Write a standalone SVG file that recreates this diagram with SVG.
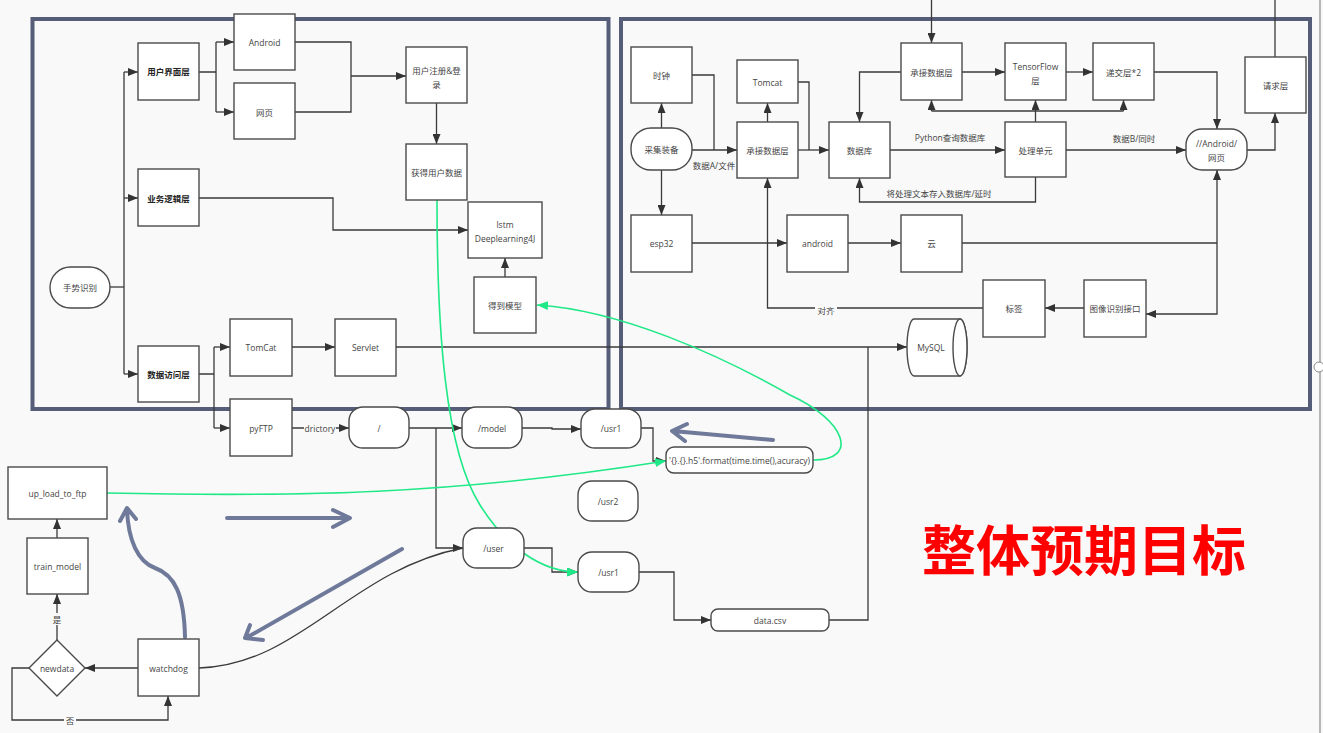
<svg xmlns="http://www.w3.org/2000/svg" width="1323" height="733" viewBox="0 0 1323 733">
  <defs>
    <marker id="ah" viewBox="0 0 10 8" refX="10" refY="4" markerWidth="10" markerHeight="8" markerUnits="userSpaceOnUse" orient="auto">
      <path d="M0,0 L10,4 L0,8 Z" fill="#333"/>
    </marker>
    <marker id="ahg" viewBox="0 0 10 8" refX="10" refY="4" markerWidth="11" markerHeight="9" markerUnits="userSpaceOnUse" orient="auto">
      <path d="M0,0 L10,4 L0,8 Z" fill="#1fe986"/>
    </marker>
    <style>
      .frame { fill: none; stroke: #565d78; stroke-width: 4; }
      .box { fill: #fff; stroke: #4a4a4a; stroke-width: 1.4; }
      .t { font-family: 'Open Sans', 'Noto Sans CJK SC', sans-serif; font-size: 8.5px; fill: #444; text-anchor: middle; dominant-baseline: central; }
      .b { font-weight: bold; fill: #222; }
      .ln { fill: none; stroke: #3a3a3a; stroke-width: 1.3; }
      .arr { fill: none; stroke: #3a3a3a; stroke-width: 1.3; marker-end: url(#ah); }
      .g { fill: none; stroke: #1fe986; stroke-width: 1.6; marker-end: url(#ahg); }
      .big { fill: none; stroke: #6f7a9a; stroke-width: 4; stroke-linecap: round; stroke-linejoin: round; }
      .lbg { fill: #f9f9f9; }
    </style>
  </defs>

  <rect width="1323" height="733" fill="#f9f9f9"/>
  <!-- window edge -->
  <line x1="1320" y1="0" x2="1320" y2="733" stroke="#8a8a8a" stroke-width="1.2"/>
  <circle cx="1319" cy="367" r="5" fill="#fff" stroke="#8a8a8a" stroke-width="1"/>

  <!-- section frames -->
  <rect class="frame" x="32.5" y="19" width="576" height="390"/>
  <rect class="frame" x="621" y="19" width="689" height="390"/>

  <!-- connectors -->
  <g id="connectors">
    <!-- gesture system -->
    <path class="ln" d="M110,287 H124"/>
    <path class="ln" d="M124,72 V374"/>
    <path class="arr" d="M124,72 H138"/>
    <path class="arr" d="M124,198 H138"/>
    <path class="arr" d="M124,374 H138"/>
    <path class="ln" d="M199,72 H216 M216,42 V112"/>
    <path class="arr" d="M216,42 H234"/>
    <path class="arr" d="M216,112 H234"/>
    <path class="ln" d="M295,42 H351 V112 H295"/>
    <path class="arr" d="M351,76 H406"/>
    <path class="arr" d="M436.5,103 V144"/>
    <path class="arr" d="M199,198 H333 V230 H468"/>
    <path class="arr" d="M505,277 V258"/>
    <path class="ln" d="M199,374 H214 M214,347 V428"/>
    <path class="arr" d="M214,347 H230"/>
    <path class="arr" d="M214,428 H230"/>
    <path class="arr" d="M292,347 H335"/>
    <path class="arr" d="M396,347 H907"/>
    <path class="ln" d="M868,347 V620 H829"/>

    <!-- ftp tree -->
    <path class="arr" d="M292,428 H349"/>
    <rect class="lbg" x="304" y="422" width="32" height="12"/>
    <text class="t" x="320" y="428">drictory</text>
    <path class="arr" d="M409,428 H462"/>
    <path class="arr" d="M436,428 V548 H463"/>
    <path class="arr" d="M522,428 H552 V429 H581"/>
    <path class="arr" d="M641,428 H653 V461 H666"/>
    <path class="arr" d="M524,548 H552 V572 H578"/>
    <path class="arr" d="M639,572 H674 V620 H711"/>
    <path class="ln" d="M199,668 C300,665 350,570 463,548"/>

    <!-- training loop -->
    <path class="arr" d="M138,668 H85"/>
    <path class="arr" d="M57,640 V594"/>
    <rect class="lbg" x="51" y="613" width="12" height="12"/>
    <text class="t" x="57" y="619">是</text>
    <path class="arr" d="M57,538 V519"/>
    <path class="arr" d="M30,668 H12 V720 H168 V696"/>
    <rect class="lbg" x="64" y="714" width="12" height="12"/>
    <text class="t" x="70" y="720">否</text>

    <!-- acquisition system -->
    <path class="arr" d="M661.5,128 V103"/>
    <path class="arr" d="M661.5,170 V215"/>
    <path class="arr" d="M692,150 H737"/>
    <text class="t" x="714" y="165">数据A/文件</text>
    <path class="ln" d="M692,75 H714 V150"/>
    <path class="arr" d="M767.5,122 V103"/>
    <path class="ln" d="M798,82 H809 V150"/>
    <path class="arr" d="M798,150 H829"/>
    <path class="arr" d="M983,308 H767.5 V178"/>
    <rect class="lbg" x="815" y="304" width="22" height="12"/>
    <text class="t" x="826" y="310">对齐</text>
    <path class="arr" d="M1035.5,177 V202 H859.5 V178"/>
    <text class="t" x="939" y="193">将处理文本存入数据库/延时</text>
    <path class="arr" d="M890,150 H1005"/>
    <text class="t" x="950" y="137">Python查询数据库</text>
    <path class="arr" d="M901,72 H859.5 V122"/>
    <path class="arr" d="M931.5,0 V43"/>
    <path class="arr" d="M962,72 H1005"/>
    <path class="arr" d="M1066,72 H1093"/>
    <path class="arr" d="M1035.5,122 V100"/>
    <path class="ln" d="M931.5,111 H1123.5"/>
    <path class="arr" d="M931.5,111 V100"/>
    <path class="arr" d="M1123.5,111 V100"/>
    <path class="arr" d="M1154,72 H1217 V129"/>
    <path class="arr" d="M1066,150 H1186"/>
    <text class="t" x="1134" y="138">数据B/同时</text>
    <path class="arr" d="M1247,150 H1275 V113"/>
    <path class="ln" d="M1275,57 V0"/>
    <path class="arr" d="M692,243 H787"/>
    <path class="arr" d="M848,243 H901"/>
    <path class="ln" d="M962,243 H1217"/>
    <path class="arr" d="M1217,243 V170"/>
    <path class="arr" d="M1217,243 V314 H1146"/>
    <path class="arr" d="M1084,308 H1045"/>

    <!-- highlighted data flows -->
    <path class="g" d="M437,200 C437,330 445,450 480,505 C505,545 540,572 578,572"/>
    <path class="g" d="M107,493 C300,497 450,495 666,461"/>
    <path class="g" d="M813,460 C860,460 845,420 790,395 C720,355 620,310 537,305"/>

    <!-- direction hints -->
    <path class="big" d="M773,440 L673,431 M687,424 L672,431 L685,441"/>
    <path class="big" d="M227,518 H349 M333,510 L350,518 L333,527"/>
    <path class="big" d="M402,549 L246,638 M250,625 L245,638 L263,640"/>
    <path class="big" d="M185,637 C184,595 175,575 155,568 C138,562 128,540 127,509 M120,521 L127,508 L136,519"/>
  </g>

  <!-- gesture system nodes -->
  <g id="ui-layer"><rect class="box" x="138" y="43" width="61" height="57"/><text class="t b" x="168.5" y="71.5">用户界面层</text></g>
  <g id="android"><rect class="box" x="234" y="14" width="61" height="56"/><text class="t" x="264.5" y="42">Android</text></g>
  <g id="web"><rect class="box" x="234" y="83" width="61" height="56"/><text class="t" x="264.5" y="112">网页</text></g>
  <g id="logic-layer"><rect class="box" x="138" y="169" width="61" height="57"/><text class="t b" x="168.5" y="198">业务逻辑层</text></g>
  <g id="register"><rect class="box" x="406" y="47" width="61" height="56"/><text class="t" x="436.5" y="70">用户注册&amp;登</text><text class="t" x="436.5" y="84">录</text></g>
  <g id="user-data"><rect class="box" x="406" y="144" width="61" height="56"/><text class="t" x="436.5" y="172">获得用户数据</text></g>
  <g id="lstm"><rect class="box" x="468" y="202" width="74" height="56"/><text class="t" x="505" y="224">lstm</text><text class="t" x="505" y="238">Deeplearning4J</text></g>
  <g id="model"><rect class="box" x="474" y="277" width="62" height="56"/><text class="t" x="505" y="305">得到模型</text></g>
  <g id="gesture"><rect class="box" x="50" y="267" width="60" height="41" rx="20.5"/><text class="t" x="80" y="287.5">手势识别</text></g>
  <g id="data-layer"><rect class="box" x="138" y="346" width="61" height="56"/><text class="t b" x="168.5" y="374">数据访问层</text></g>
  <g id="tomcat-l"><rect class="box" x="230" y="319" width="62" height="57"/><text class="t" x="261" y="347">TomCat</text></g>
  <g id="servlet"><rect class="box" x="335" y="319" width="61" height="57"/><text class="t" x="365.5" y="347">Servlet</text></g>
  <g id="pyftp"><rect class="box" x="230" y="399" width="62" height="57"/><text class="t" x="261" y="428">pyFTP</text></g>
  <g id="mysql">
    <path class="box" d="M914,319 H960 A7,28.5 0 0 1 960,376 H914 A7,28.5 0 0 1 914,319 Z"/>
    <ellipse class="box" cx="960" cy="347.5" rx="7" ry="28.5"/>
    <text class="t" x="931" y="347.5">MySQL</text>
  </g>

  <!-- ftp directory nodes -->
  <g id="root"><rect class="box" x="349" y="407" width="60" height="41" rx="14"/><text class="t" x="379" y="428">/</text></g>
  <g id="dir-model"><rect class="box" x="462" y="407" width="60" height="41" rx="14"/><text class="t" x="492" y="428">/model</text></g>
  <g id="dir-usr1a"><rect class="box" x="581" y="409" width="60" height="39" rx="14"/><text class="t" x="611" y="428.5">/usr1</text></g>
  <g id="h5-name"><rect class="box" x="666" y="447" width="147" height="26" rx="8"/><text class="t" x="739.5" y="460.5">'{}.{}.h5'.format(time.time(),acuracy)</text></g>
  <g id="dir-usr2"><rect class="box" x="578" y="481" width="60" height="40" rx="14"/><text class="t" x="608" y="501">/usr2</text></g>
  <g id="dir-user"><rect class="box" x="463" y="528" width="61" height="40" rx="14"/><text class="t" x="493.5" y="548">/user</text></g>
  <g id="dir-usr1b"><rect class="box" x="578" y="552" width="61" height="40" rx="14"/><text class="t" x="608.5" y="572">/usr1</text></g>
  <g id="data-csv"><rect class="box" x="711" y="609" width="118" height="22" rx="7"/><text class="t" x="770" y="620">data.csv</text></g>

  <!-- training loop nodes -->
  <g id="upload"><rect class="box" x="8" y="467" width="99" height="52"/><text class="t" x="57.5" y="493">up_load_to_ftp</text></g>
  <g id="train"><rect class="box" x="27" y="538" width="61" height="56"/><text class="t" x="57.5" y="566">train_model</text></g>
  <g id="newdata"><path class="box" d="M57,640 L85,668 L57,696 L29,668 Z"/><text class="t" x="57" y="668">newdata</text></g>
  <g id="watchdog"><rect class="box" x="138" y="639" width="61" height="57"/><text class="t" x="168.5" y="668">watchdog</text></g>

  <!-- acquisition system nodes -->
  <g id="clock"><rect class="box" x="631" y="47" width="61" height="56"/><text class="t" x="661.5" y="75">时钟</text></g>
  <g id="collector"><rect class="box" x="631" y="128" width="61" height="42" rx="20"/><text class="t" x="661.5" y="149">采集装备</text></g>
  <g id="tomcat-r"><rect class="box" x="737" y="60" width="61" height="43"/><text class="t" x="767.5" y="82">Tomcat</text></g>
  <g id="receive-a"><rect class="box" x="737" y="122" width="61" height="56"/><text class="t" x="767.5" y="150">承接数据层</text></g>
  <g id="database"><rect class="box" x="829" y="122" width="61" height="56"/><text class="t" x="859.5" y="150">数据库</text></g>
  <g id="receive-b"><rect class="box" x="901" y="43" width="61" height="57"/><text class="t" x="931.5" y="72">承接数据层</text></g>
  <g id="tensorflow"><rect class="box" x="1005" y="43" width="61" height="57"/><text class="t" x="1035.5" y="66">TensorFlow</text><text class="t" x="1035.5" y="80">层</text></g>
  <g id="submit"><rect class="box" x="1093" y="43" width="61" height="57"/><text class="t" x="1123.5" y="72">递交层*2</text></g>
  <g id="request"><rect class="box" x="1245" y="57" width="61" height="56"/><text class="t" x="1275.5" y="85">请求层</text></g>
  <g id="processor"><rect class="box" x="1005" y="122" width="61" height="55"/><text class="t" x="1035.5" y="150">处理单元</text></g>
  <g id="client"><rect class="box" x="1186" y="129" width="61" height="41" rx="16"/><text class="t" x="1216.5" y="143">//Android/</text><text class="t" x="1216.5" y="157">网页</text></g>
  <g id="esp32"><rect class="box" x="631" y="215" width="61" height="57"/><text class="t" x="661.5" y="243">esp32</text></g>
  <g id="android-r"><rect class="box" x="787" y="215" width="61" height="57"/><text class="t" x="817.5" y="243">android</text></g>
  <g id="cloud"><rect class="box" x="901" y="215" width="61" height="57"/><text class="t" x="931.5" y="243">云</text></g>
  <g id="label"><rect class="box" x="983" y="280" width="62" height="57"/><text class="t" x="1014" y="308">标签</text></g>
  <g id="image-api"><rect class="box" x="1084" y="280" width="62" height="57"/><text class="t" x="1115" y="308">图像识别接口</text></g>

  <!-- title -->
  <text x="1084" y="571" font-family="'Noto Sans CJK SC', sans-serif" font-size="54" font-weight="bold" fill="#ff0000" text-anchor="middle">整体预期目标</text>
</svg>
